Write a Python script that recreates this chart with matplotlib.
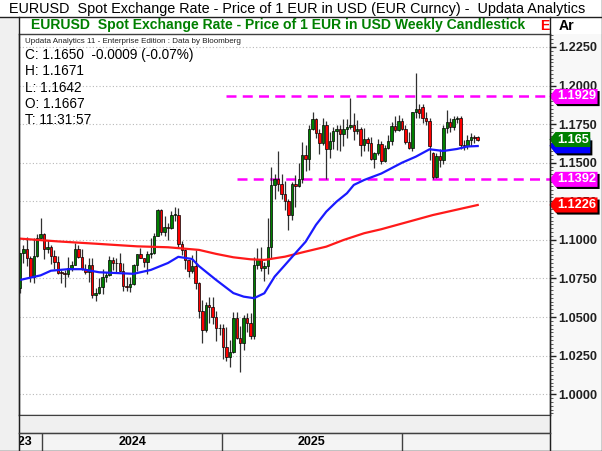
import matplotlib
matplotlib.use("Agg")
import matplotlib.pyplot as plt
import matplotlib.dates as mdates
import matplotlib.transforms as mtransforms
import matplotlib.patheffects as pe
from matplotlib.lines import Line2D
from matplotlib.patches import Rectangle
from matplotlib.path import Path
from matplotlib.ticker import MultipleLocator, FuncFormatter
import numpy as np
import pandas as pd

plt.rcParams['font.family'] = ['Liberation Sans', 'DejaVu Sans']

# ---- data (weekly EURUSD candles, week ending Friday) ----
first_week = '2023-11-17'
opens = [1.0685, 1.0913, 1.0940, 1.0883, 1.0762, 1.0895, 1.1013, 1.1039, 1.0940, 1.0951,
         1.0897, 1.0854, 1.0788, 1.0784, 1.0777, 1.0820, 1.0838, 1.0938, 1.0888, 1.0808,
         1.0790, 1.0837, 1.0643, 1.0656, 1.0693, 1.0761, 1.0771, 1.0869, 1.0848, 1.0849,
         1.0801, 1.0703, 1.0694, 1.0713, 1.0840, 1.0907, 1.0882, 1.0857, 1.0910, 1.0916,
         1.1027, 1.1192, 1.1048, 1.1082, 1.1075, 1.1163, 1.1164, 1.0975, 1.0937, 1.0867,
         1.0797, 1.0833, 1.0719, 1.0542, 1.0418, 1.0577, 1.0567, 1.0501, 1.0430, 1.0426,
         1.0308, 1.0244, 1.0272, 1.0494, 1.0362, 1.0329, 1.0493, 1.0459, 1.0377, 1.0834,
         1.0878, 1.0816, 1.0828, 1.0956, 1.1356, 1.1395, 1.1364, 1.1298, 1.1253, 1.1164,
         1.1364, 1.1347, 1.1397, 1.1550, 1.1523, 1.1719, 1.1780, 1.1690, 1.1627, 1.1742,
         1.1586, 1.1641, 1.1703, 1.1719, 1.1685, 1.1718, 1.1734, 1.1746, 1.1703, 1.1716,
         1.1617, 1.1653, 1.1627, 1.1523, 1.1565, 1.1620, 1.1513, 1.1597, 1.1642, 1.1740,
         1.1710, 1.1772, 1.1720, 1.1635, 1.1597, 1.1826, 1.1850, 1.1860, 1.1790, 1.1770,
         1.1560, 1.1410, 1.1545, 1.1515, 1.1725, 1.1765, 1.1730, 1.1780, 1.1790, 1.1615,
         1.1610, 1.1645, 1.1660, 1.1667]
highs = [1.0916, 1.0965, 1.1017, 1.0894, 1.1009, 1.1040, 1.1140, 1.1046, 1.0999, 1.0967,
         1.0933, 1.0897, 1.0806, 1.0806, 1.0888, 1.0865, 1.0981, 1.0964, 1.0942, 1.0843,
         1.0885, 1.0885, 1.0691, 1.0753, 1.0812, 1.0791, 1.0895, 1.0888, 1.0882, 1.0916,
         1.0852, 1.0762, 1.0761, 1.0844, 1.0910, 1.0948, 1.0885, 1.0926, 1.1009, 1.1047,
         1.1202, 1.1200, 1.1155, 1.1108, 1.1190, 1.1214, 1.1209, 1.0990, 1.0940, 1.0870,
         1.0905, 1.0937, 1.0725, 1.0610, 1.0597, 1.0630, 1.0629, 1.0536, 1.0456, 1.0457,
         1.0437, 1.0353, 1.0533, 1.0532, 1.0442, 1.0513, 1.0528, 1.0528, 1.0889, 1.0947,
         1.0955, 1.0858, 1.1144, 1.1474, 1.1425, 1.1573, 1.1425, 1.1380, 1.1266, 1.1378,
         1.1420, 1.1495, 1.1631, 1.1615, 1.1744, 1.1830, 1.1789, 1.1720, 1.1789, 1.1770,
         1.1699, 1.1730, 1.1743, 1.1742, 1.1780, 1.1780, 1.1918, 1.1819, 1.1779, 1.1730,
         1.1728, 1.1669, 1.1669, 1.1570, 1.1655, 1.1640, 1.1613, 1.1682, 1.1763, 1.1804,
         1.1808, 1.1790, 1.1745, 1.1700, 1.1830, 1.2082, 1.1880, 1.1880, 1.1830, 1.1790,
         1.1570, 1.1560, 1.1590, 1.1745, 1.1840, 1.1790, 1.1800, 1.1800, 1.1805, 1.1650,
         1.1680, 1.1690, 1.1680, 1.1671]
lows = [1.0656, 1.0852, 1.0828, 1.0724, 1.0723, 1.0889, 1.1011, 1.0877, 1.0912, 1.0845,
        1.0813, 1.0780, 1.0722, 1.0695, 1.0761, 1.0796, 1.0834, 1.0880, 1.0802, 1.0777,
        1.0724, 1.0622, 1.0601, 1.0648, 1.0650, 1.0724, 1.0764, 1.0805, 1.0788, 1.0801,
        1.0668, 1.0671, 1.0665, 1.0710, 1.0796, 1.0880, 1.0825, 1.0777, 1.0881, 1.0906,
        1.1027, 1.1034, 1.1026, 1.1001, 1.1069, 1.1120, 1.0953, 1.0900, 1.0811, 1.0761,
        1.0787, 1.0683, 1.0496, 1.0332, 1.0400, 1.0460, 1.0452, 1.0343, 1.0385, 1.0226,
        1.0213, 1.0178, 1.0265, 1.0359, 1.0141, 1.0285, 1.0400, 1.0359, 1.0360, 1.0810,
        1.0797, 1.0733, 1.0779, 1.0880, 1.1263, 1.1317, 1.1263, 1.1194, 1.1065, 1.1128,
        1.1210, 1.1345, 1.1371, 1.1446, 1.1453, 1.1715, 1.1660, 1.1557, 1.1613, 1.1392,
        1.1528, 1.1589, 1.1584, 1.1573, 1.1608, 1.1660, 1.1720, 1.1646, 1.1685, 1.1542,
        1.1576, 1.1574, 1.1519, 1.1468, 1.1550, 1.1491, 1.1505, 1.1590, 1.1617, 1.1700,
        1.1705, 1.1710, 1.1620, 1.1590, 1.1575, 1.1790, 1.1790, 1.1760, 1.1745, 1.1520,
        1.1395, 1.1400, 1.1470, 1.1490, 1.1690, 1.1700, 1.1710, 1.1755, 1.1590, 1.1580,
        1.1590, 1.1605, 1.1630, 1.1642]
closes = [1.0913, 1.0940, 1.0883, 1.0762, 1.0895, 1.1013, 1.1039, 1.0940, 1.0951, 1.0897,
          1.0854, 1.0788, 1.0784, 1.0777, 1.0820, 1.0838, 1.0938, 1.0888, 1.0808, 1.0790,
          1.0837, 1.0643, 1.0656, 1.0693, 1.0761, 1.0771, 1.0869, 1.0848, 1.0849, 1.0801,
          1.0703, 1.0694, 1.0713, 1.0840, 1.0907, 1.0882, 1.0857, 1.0910, 1.0916, 1.1027,
          1.1192, 1.1048, 1.1082, 1.1075, 1.1163, 1.1164, 1.0975, 1.0937, 1.0867, 1.0797,
          1.0833, 1.0719, 1.0542, 1.0418, 1.0577, 1.0567, 1.0501, 1.0430, 1.0426, 1.0308,
          1.0244, 1.0272, 1.0494, 1.0362, 1.0329, 1.0493, 1.0459, 1.0377, 1.0834, 1.0878,
          1.0816, 1.0828, 1.0956, 1.1356, 1.1395, 1.1364, 1.1298, 1.1253, 1.1164, 1.1364,
          1.1347, 1.1397, 1.1550, 1.1523, 1.1719, 1.1780, 1.1690, 1.1627, 1.1742, 1.1586,
          1.1641, 1.1703, 1.1719, 1.1685, 1.1718, 1.1734, 1.1746, 1.1703, 1.1716, 1.1617,
          1.1653, 1.1627, 1.1523, 1.1565, 1.1620, 1.1513, 1.1597, 1.1642, 1.1740, 1.1710,
          1.1772, 1.1720, 1.1635, 1.1597, 1.1826, 1.1850, 1.1820, 1.1790, 1.1770, 1.1610,
          1.1410, 1.1545, 1.1515, 1.1725, 1.1765, 1.1730, 1.1780, 1.1790, 1.1615, 1.1610,
          1.1645, 1.1665, 1.1659, 1.1650]

# moving averages at some weeks (week number, value)
blue_weeks = [0, 6, 9, 14, 18, 23, 28, 33, 38, 43, 46, 50, 52, 57, 62, 65, 68, 71, 74, 77,
              80, 83, 86, 89, 92, 95, 97, 100, 105, 111, 115, 119, 123, 127, 130, 133]
blue_ma = [1.0740, 1.0770, 1.0800, 1.0810, 1.0810, 1.0790, 1.0785, 1.0780, 1.0805, 1.0850,
           1.0890, 1.0876, 1.0830, 1.0740, 1.0655, 1.0632, 1.0622, 1.0654, 1.0762, 1.0837,
           1.0913, 1.0988, 1.1097, 1.1183, 1.1248, 1.1302, 1.1356, 1.1388, 1.1430, 1.1500,
           1.1539, 1.1587, 1.1576, 1.1589, 1.1605, 1.1608]
red_weeks = [0, 11, 22, 34, 43, 52, 57, 62, 67, 71, 77, 83, 89, 94, 100, 105, 120, 133]
red_ma = [1.1008, 1.0990, 1.0975, 1.0958, 1.0952, 1.0935, 1.0909, 1.0887, 1.0874, 1.0870,
          1.0891, 1.0924, 1.0956, 1.0999, 1.1043, 1.1069, 1.1161, 1.1226]

# horizontal levels (value, week where the dashed line starts)
levels = [1.1929, 1.1392]
level_start_weeks = [60, 63]

# price tags on the right axis (last close sits on top of the blue MA tag)
tag_values = [1.1929, 1.165, 1.1392, 1.1226]
tag_texts = ['1.1929', '1.165', '1.1392', '1.1226']
tag_colors = ['#ff00ff', '#008000', '#ff00ff', '#ff0000']
under_tag = {'1.165': '#0000ff'}

years = [2023, 2024, 2025]
view_start, view_end = '2023-11-14', '2026-10-30'

title = 'EURUSD  Spot Exchange Rate - Price of 1 EUR in USD (EUR Curncy) -  Updata Analytics'
subtitle = 'EURUSD  Spot Exchange Rate - Price of 1 EUR in USD Weekly Candlestick'
info_lines = ['C: 1.1650  -0.0009 (-0.07%)', 'H: 1.1671', 'L: 1.1642', 'O: 1.1667', 'T: 11:31:57']

# ---- figure ----
W, H = 602, 451
fig = plt.figure(figsize=(W / 100, H / 100), dpi=100)
fig.patch.set_facecolor('#f0f0f0')


def fx(px):
    return px / W


def fy(py):
    return 1 - py / H


def frect(x0, y0, x1, y1, color):
    fig.patches.append(Rectangle((fx(x0), fy(y1)), fx(x1 - x0), (y1 - y0) / H,
                                 transform=fig.transFigure, facecolor=color, edgecolor='none', zorder=-5))


def fline(x0, y0, x1, y1, color='#202020', lw=1.0):
    fig.add_artist(Line2D([fx(x0), fx(x1)], [fy(y0), fy(y1)], color=color, lw=lw, zorder=5))


frect(0, 0, W, 17, 'white')
frect(18.5, 17, W, 34, 'white')
frect(550, 34, W, H, '#f8f8f8')
fline(0, 17, W, 17)
fline(18.5, 17, 18.5, H)
fline(550, 17, 550, H)
fline(18.5, 433, 550, 433, '#404040')
fline(W - 0.5, 0, W - 0.5, H)
fline(0, H - 0.5, W, H - 0.5)

fig.text(fx(9), fy(9), title, fontsize=10.4, color='black', ha='left', va='center')
fig.text(fx(31), fy(25.5), subtitle, fontsize=10.1, color='#008000', ha='left', va='center',
         fontweight='bold')
fig.text(fx(540), fy(25.5), 'E', fontsize=10.1, color='#ff0000', ha='left', va='center', fontweight='bold')
fig.text(fx(559), fy(25.5), 'Ar', fontsize=10.1, color='black', ha='left', va='center', fontweight='bold')

# main price panel
ax = fig.add_axes([fx(18.5), fy(415), fx(550 - 18.5), (415 - 34) / H])
ax.set_facecolor('white')

dates = pd.date_range(first_week, periods=len(closes), freq='7D')
x = mdates.date2num(dates)
o = np.array(opens)
h = np.array(highs)
lo = np.array(lows)
c = np.array(closes)
up = c >= o
body_col = np.where(up, '#008000', '#ff0000')
body_h = np.maximum(np.abs(c - o), 0.0005)

ax.vlines(x, lo, h, color='#303030', lw=0.9, zorder=2)
ax.bar(x, body_h, bottom=np.minimum(o, c), width=5.0, color=body_col,
       edgecolor='black', linewidth=0.5, zorder=3)

ax.plot(x[red_weeks], red_ma, color='#ff1a1a', lw=1.6, zorder=4)
ax.plot(x[blue_weeks], blue_ma, color='#1a1aff', lw=1.6, zorder=4)

xmin, xmax = mdates.date2num(pd.Timestamp(view_start)), mdates.date2num(pd.Timestamp(view_end))
for lvl, wk in zip(levels, level_start_weeks):
    ax.hlines(lvl, x[wk], xmax, color='#ff00ff', lw=1.8, linestyles=(0, (4, 2.5)), zorder=1)

ax.set_xlim(xmin, xmax)
ax.set_ylim(0.9865, 1.2334)
ax.set_xticks([])
ax.yaxis.set_major_locator(MultipleLocator(0.025))
ax.yaxis.set_minor_locator(MultipleLocator(0.0025))
ax.yaxis.set_major_formatter(FuncFormatter(lambda v, p: f'{v:.4f}'))
ax.yaxis.tick_right()
ax.tick_params(axis='y', which='major', length=4, width=1, pad=2, labelsize=9.2, colors='#202020')
ax.tick_params(axis='y', which='minor', length=2, width=0.6, colors='#404040')
for lab in ax.get_yticklabels():
    lab.set_fontweight('bold')
ax.yaxis.grid(True, which='major', linestyle=(0, (1, 2)), color='#b8b8b8', lw=0.8)
ax.set_axisbelow(True)
for s in ax.spines.values():
    s.set_color('#404040')
    s.set_linewidth(1.0)


# arrow shaped price tags
def tag_shape(x0, y0, width, height, mutation_size):
    pad = mutation_size * 0.12
    x0, y0 = x0 - pad, y0 - pad
    x1, y1 = x0 + width + 2 * pad, y0 + height + 2 * pad
    tip = (y1 - y0) * 0.4
    return Path([(x0, y0), (x1, y0), (x1, y1), (x0, y1), (x0 - tip, (y0 + y1) / 2), (x0, y0)], closed=True)


blend = mtransforms.blended_transform_factory(ax.transAxes, ax.transData)
for val, txt, col in zip(tag_values, tag_texts, tag_colors):
    t = ax.text(1.0 + 7 / 531.5, val, txt, transform=blend, fontsize=9.2, fontweight='bold', color='white',
                ha='left', va='center', clip_on=False, zorder=10,
                bbox=dict(boxstyle=tag_shape, facecolor=col, edgecolor='none'))
    effects = [pe.SimplePatchShadow(offset=(1.5, -1.5), shadow_rgbFace='black', alpha=1.0)]
    if txt in under_tag:
        effects = [pe.SimplePatchShadow(offset=(1.5, -6), shadow_rgbFace='black', alpha=1.0),
                   pe.SimplePatchShadow(offset=(0, -4.5), shadow_rgbFace=under_tag[txt], alpha=1.0)]
    t.get_bbox_patch().set_path_effects(effects + [pe.Normal()])

# info block
fig.text(fx(25), fy(41.5), 'Updata Analytics 11 - Enterprise Edition : Data by Bloomberg',
         fontsize=5.8, color='#202020', ha='left', va='center')
for k, line in enumerate(info_lines):
    fig.text(fx(25), fy(55 + 16.3 * k), line, fontsize=9.8, color='black', ha='left', va='center')

# gray strip + year row
strip = fig.add_axes([fx(18.5), fy(433), fx(531.5), 18 / H])
strip.set_facecolor('#f0f0f0')
strip.set_xticks([])
strip.set_yticks([])
for s in strip.spines.values():
    s.set_color('#404040')

yr = fig.add_axes([fx(18.5), fy(451), fx(531.5), 18 / H])
yr.set_facecolor('#f4f4f4')
yr.set_xlim(xmin, xmax)
yr.set_ylim(0, 1)
yr.set_xticks([])
yr.set_yticks([])
for s in yr.spines.values():
    s.set_color('#404040')
for y in years + [years[-1] + 1]:
    yx = mdates.date2num(pd.Timestamp(f'{y}-01-01'))
    if xmin < yx < xmax:
        yr.axvline(yx, color='#404040', lw=1.0)
for y in years:
    a = max(mdates.date2num(pd.Timestamp(f'{y}-01-01')), xmin)
    b = mdates.date2num(pd.Timestamp(f'{y + 1}-01-01'))
    cx = xmin if a == xmin else (a + b) / 2
    yr.text(cx, 0.5, str(y), fontsize=9, fontweight='bold', ha='center', va='center', clip_on=True)

fig.savefig('out.png', dpi=100, facecolor=fig.get_facecolor())
